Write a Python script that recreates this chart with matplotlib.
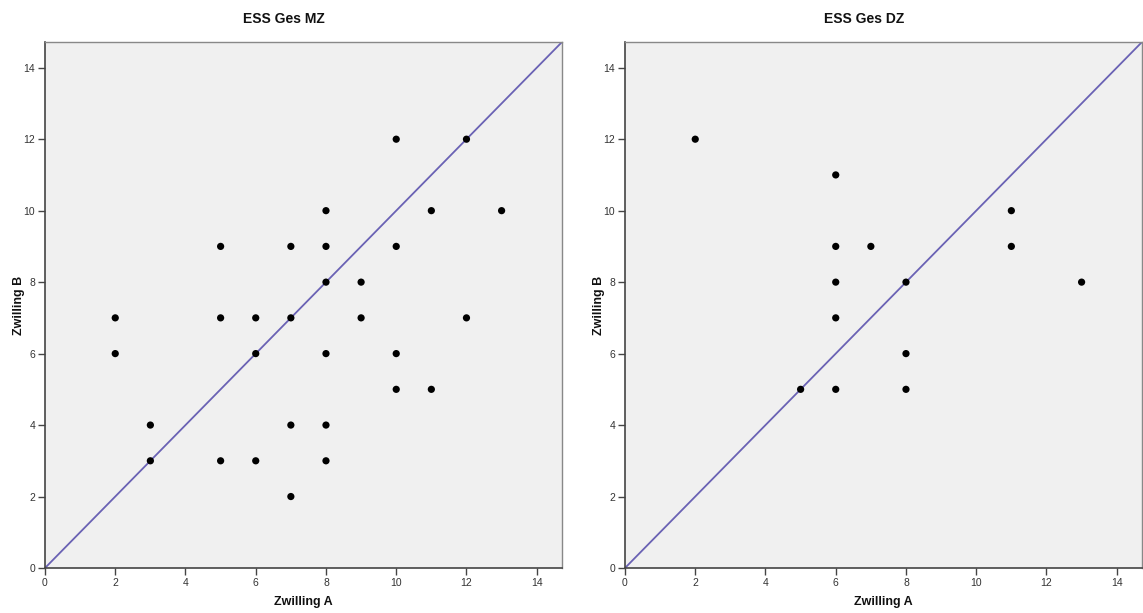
import matplotlib
matplotlib.use("Agg")
import matplotlib.pyplot as plt

plt.rcParams['font.family'] = ['Liberation Sans', 'DejaVu Sans']

# Data: ESS Ges MZ
mz_a = [2, 2, 3, 3, 5, 5, 5, 6, 6, 6, 7, 7, 7, 7, 8, 8, 8, 8, 8, 8, 9, 9, 10, 10, 10, 10, 11, 11, 12, 12, 13]
mz_b = [7, 6, 4, 3, 9, 7, 3, 7, 6, 3, 9, 7, 4, 2, 10, 9, 8, 6, 4, 3, 8, 7, 12, 9, 6, 5, 10, 5, 12, 7, 10]

# Data: ESS Ges DZ
dz_a = [2, 5, 6, 6, 6, 6, 6, 7, 8, 8, 8, 11, 11, 13]
dz_b = [12, 5, 11, 9, 8, 7, 5, 9, 8, 6, 5, 10, 9, 8]

titles = ["ESS Ges MZ", "ESS Ges DZ"]
ticks = [0, 2, 4, 6, 8, 10, 12, 14]
lim = 14.72

fig = plt.figure(figsize=(11.43, 6.13), dpi=100)
W = 1143.0
H = 613.0
positions = [
    [45 / W, (H - 568) / H, 517 / W, 526 / H],
    [625 / W, (H - 568) / H, 517 / W, 526 / H],
]

for pos, title, xa, yb in zip(positions, titles, [mz_a, dz_a], [mz_b, dz_b]):
    ax = fig.add_axes(pos)
    ax.set_facecolor('#F0F0F0')
    ax.set_xlim(0, lim)
    ax.set_ylim(0, lim)
    ax.plot([0, lim], [0, lim], color='#6A62B4', lw=1.3, zorder=2)
    ax.scatter(xa, yb, s=27, color='black', edgecolors='none', zorder=3)
    ax.set_xticks(ticks)
    ax.set_yticks(ticks)
    ax.tick_params(direction='out', length=5, width=1, colors='#444444',
                   labelsize=7.5, labelcolor='#333333', pad=2)
    for side in ['left', 'bottom']:
        ax.spines[side].set_color('#444444')
        ax.spines[side].set_linewidth(1.2)
    for side in ['top', 'right']:
        ax.spines[side].set_color('#888888')
        ax.spines[side].set_linewidth(1.0)
    ax.set_title(title, fontsize=10, fontweight='bold', pad=13.5, color='#111111',
                 x=0.463)
    ax.set_xlabel('Zwilling A', fontsize=9, fontweight='bold', labelpad=6, color='#111111')
    ax.set_ylabel('Zwilling B', fontsize=9, fontweight='bold', labelpad=-1, color='#111111')

fig.savefig('out.png', dpi=100)
